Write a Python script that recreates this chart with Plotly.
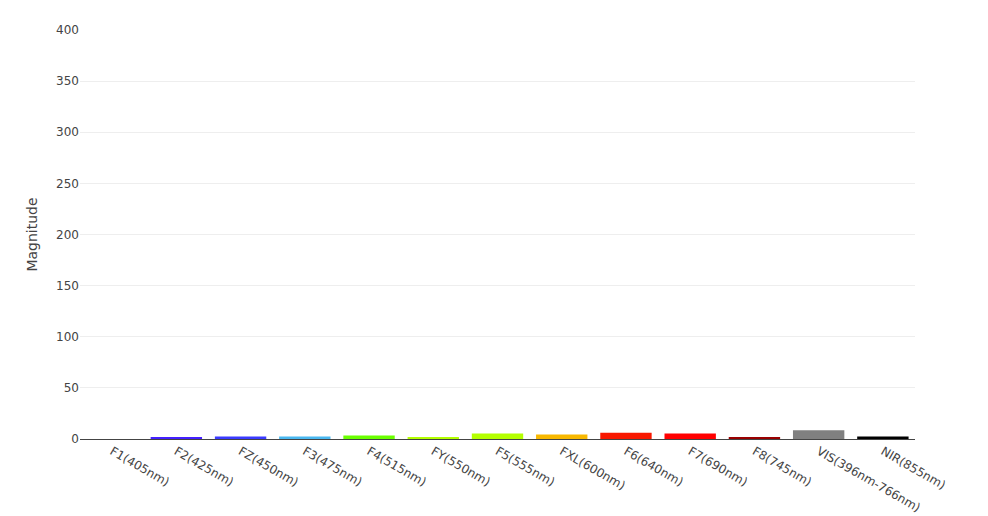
import plotly.graph_objects as go

categories = ["F1(405nm)", "F2(425nm)", "FZ(450nm)", "F3(475nm)", "F4(515nm)", "FY(550nm)",
              "F5(555nm)", "FXL(600nm)", "F6(640nm)", "F7(690nm)", "F8(745nm)",
              "VIS(396nm-766nm)", "NIR(855nm)"]
values = [0, 1.5, 2.5, 2.5, 3.5, 1.5, 5.5, 4.5, 6, 5.5, 1.5, 8.5, 2.5]
colors = ["#7600ed", "#4420ff", "#3a3aff", "#4ab8f0", "#6aff00", "#b4ff00", "#b4ff00",
          "#f8b800", "#f81800", "#ff0000", "#990000", "#808080", "#000000"]

fig = go.Figure(go.Bar(x=categories, y=values, marker=dict(color=colors, line=dict(width=0))))

fig.update_layout(
    width=988, height=516,
    margin=dict(l=80, r=73, t=30, b=77, autoexpand=False),
    plot_bgcolor="white", paper_bgcolor="white",
    font=dict(family="DejaVu Sans, Verdana, sans-serif", size=12, color="#444"),
    showlegend=False,
    bargap=0.2,
    xaxis=dict(tickangle=30, showgrid=False, showline=True, linecolor="#444", linewidth=1,
               automargin=False),
    yaxis=dict(title=dict(text="Magnitude"), range=[0, 400], dtick=50, gridcolor="#eee",
               zeroline=False, automargin=False),
)

fig.write_html("out.html", config={"displayModeBar": False})

with open("out.html", "r", encoding="utf-8") as f:
    html = f.read()
html = html.replace("<head>", "<head><style>html,body{margin:0;padding:0;overflow:hidden;}</style>", 1)
with open("out.html", "w", encoding="utf-8") as f:
    f.write(html)
